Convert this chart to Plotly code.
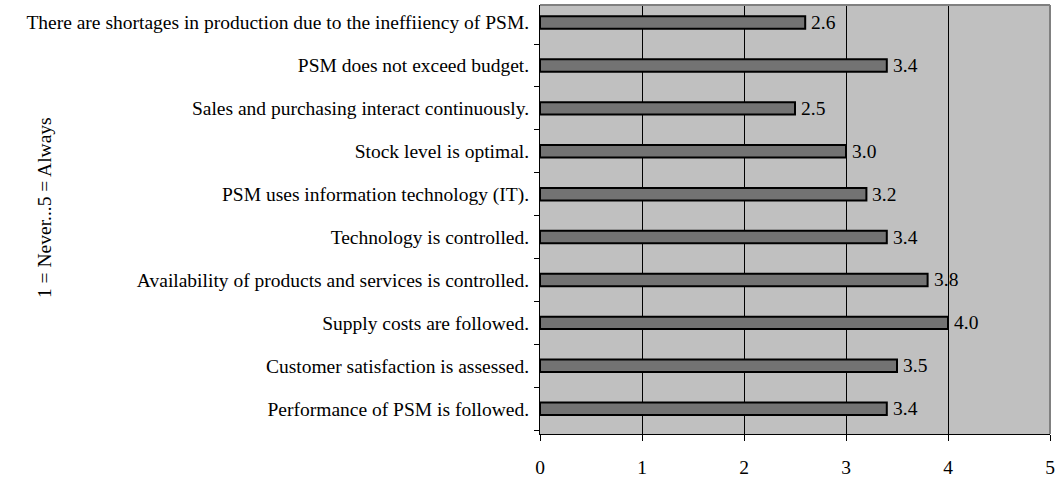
import plotly.graph_objects as go

categories = [
    "Performance of PSM is followed.",
    "Customer satisfaction is assessed.",
    "Supply costs are followed.",
    "Availability of products and services is controlled.",
    "Technology is controlled.",
    "PSM uses information technology (IT).",
    "Stock level is optimal.",
    "Sales and purchasing interact continuously.",
    "PSM does not exceed budget.",
    "There are shortages in production due to the ineffiiency of PSM.",
]
values = [3.4, 3.5, 4.0, 3.8, 3.4, 3.2, 3.0, 2.5, 3.4, 2.6]
x_ticks = [0, 1, 2, 3, 4, 5]
y_title = "1 = Never...5 = Always"

FONT = "Liberation Serif, Times New Roman, serif"
FS = 19.5
W, H = 1062, 483
L, R, T, B = 540, 12, 5, 49

fig = go.Figure(go.Bar(
    y=categories, x=values, orientation="h",
    marker=dict(color="#737373", line=dict(color="black", width=2)),
    cliponaxis=False,
))

for c, v in zip(categories, values):
    fig.add_annotation(
        x=v, y=c, text=f"{v:.1f}", showarrow=False,
        xanchor="left", yanchor="middle", xshift=4,
        font=dict(family=FONT, size=FS, color="black"),
    )

fig.update_layout(
    width=W, height=H,
    margin=dict(l=L, r=R, t=T, b=B, autoexpand=False),
    paper_bgcolor="white", plot_bgcolor="#c0c0c0",
    bargap=0.71, showlegend=False,
    font=dict(family=FONT, size=FS, color="black"),
)
fig.update_xaxes(
    range=[0, 5], tickvals=x_ticks, ticks="outside", ticklen=6, tickcolor="black",
    showgrid=True, gridcolor="black", gridwidth=1, zeroline=False,
    showline=True, linecolor="black", linewidth=1, mirror=False,
    tickfont=dict(family=FONT, size=FS, color="black"), ticklabelstandoff=10,
)
fig.update_yaxes(
    type="category", categoryorder="array", categoryarray=categories,
    range=[-0.5 - 0.09, 9.5 - 0.09],
    ticks="outside", tickson="boundaries", ticklen=5, tickcolor="black",
    showline=True, linecolor="black", linewidth=1, showgrid=False,
    tickfont=dict(family=FONT, size=FS, color="black"), ticklabelstandoff=6,
)
# gray border on top/right of plot area
fig.add_shape(type="line", xref="paper", yref="paper", x0=0, x1=1, y0=1, y1=1,
              line=dict(color="#808080", width=2))
fig.add_shape(type="line", xref="paper", yref="paper", x0=1, x1=1, y0=0, y1=1,
              line=dict(color="#808080", width=2))

pw = W - L - R
ph = H - T - B
fig.add_annotation(
    text=y_title, textangle=-90, showarrow=False,
    xref="paper", yref="paper",
    x=(45 - L) / pw, y=(H - B - 208) / ph,
    xanchor="center", yanchor="middle",
    font=dict(family=FONT, size=FS, color="black"),
)

fig.write_html("out.html")
